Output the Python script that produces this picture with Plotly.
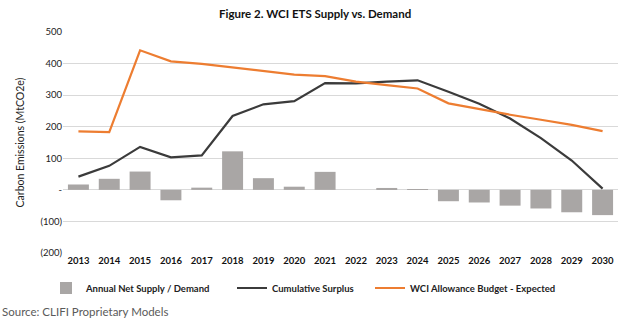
import plotly.graph_objects as go

years = [str(y) for y in range(2013, 2031)]
annual_net = [17, 35, 58, -33, 7, 122, 37, 10, 57, 0, 6, 2, -36, -40, -50, -59, -71, -80]
cumulative = [42, 76, 136, 103, 109, 234, 271, 281, 338, 337, 343, 347, 311, 273, 226, 164, 93, 4]
budget = [185, 183, 442, 407, 399, 387, 375, 365, 360, 343, 332, 321, 274, 255, 238, 222, 206, 186]

tick_vals = [-200, -100, 0, 100, 200, 300, 400, 500]
tick_text = ["(200)", "(100)", "-", "100", "200", "300", "400", "500"]

FONT = "Lato"
W, H = 624, 322

fig = go.Figure()
fig.add_trace(go.Bar(x=years, y=annual_net, name="<b>Annual Net Supply / Demand</b>",
                     marker=dict(color="#A9A6A5", line=dict(width=0)), width=0.68,
                     legend="legend"))
fig.add_trace(go.Scatter(x=years, y=cumulative, name="<b>Cumulative Surplus</b>", mode="lines",
                         line=dict(color="#3B3B3B", width=2.2), legend="legend2"))
fig.add_trace(go.Scatter(x=years, y=budget, name="<b>WCI Allowance Budget - Expected</b>", mode="lines",
                         line=dict(color="#ED7D31", width=2.2), legend="legend3"))

leg_common = dict(orientation="h", y=1 - 288 / H, xref="container", yref="container",
                  xanchor="left", yanchor="middle",
                  font=dict(size=9.5, family=FONT, color="#222222"),
                  bgcolor="rgba(0,0,0,0)")

fig.update_layout(
    width=W, height=H,
    margin=dict(l=63, r=6, t=32, b=69),
    paper_bgcolor="white", plot_bgcolor="white",
    font=dict(family=FONT, color="#222222"),
    title=dict(text="<b>Figure 2. WCI ETS Supply vs. Demand</b>", x=0.505, xanchor="center",
               y=0.957, yanchor="middle", font=dict(size=11.5, family=FONT, color="#111111")),
    showlegend=True,
    legend=dict(x=46 / W, **leg_common),
    legend2=dict(x=232 / W, **leg_common),
    legend3=dict(x=370 / W, **leg_common),
    bargap=0.32,
)
fig.update_yaxes(range=[-200, 500], tickvals=tick_vals, ticktext=tick_text,
                 showgrid=True, gridcolor="#D9D9D9", gridwidth=1,
                 zeroline=True, zerolinecolor="#D9D9D9", zerolinewidth=1,
                 tickfont=dict(size=9.5, family=FONT, color="#222222"), ticks="",
                 tickprefix="<b>", ticksuffix="</b>",
                 title=dict(text="Carbon Emissions (MtCO2e)", standoff=13,
                            font=dict(size=10.5, family=FONT, color="#222222")))
fig.update_xaxes(tickfont=dict(size=9.5, family=FONT, color="#111111"), ticks="",
                 showline=False, showgrid=False, tickprefix="<b>", ticksuffix="</b>")

fig.add_annotation(text="Source: CLIFI Proprietary Models", xref="paper", yref="paper",
                   x=0, y=0, xshift=-63, yshift=-58, xanchor="left", yanchor="middle",
                   showarrow=False, font=dict(size=11.5, family=FONT, color="#5A5A5A"))

fig.write_html("out.html")
